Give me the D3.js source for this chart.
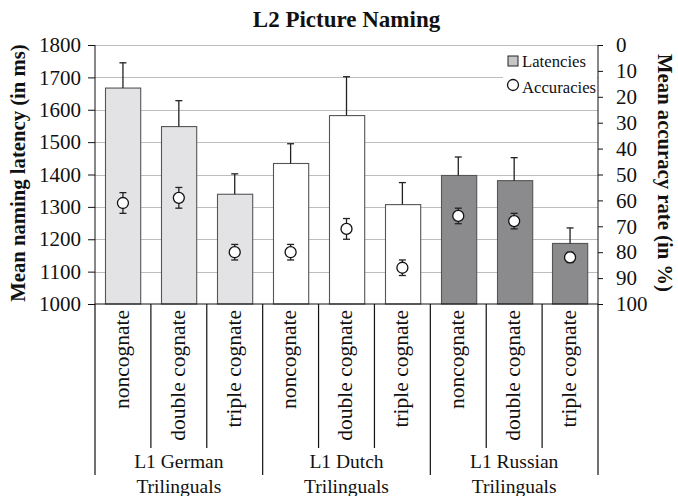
<!DOCTYPE html>
<html>
<head>
<meta charset="utf-8">
<script src="https://cdn.jsdelivr.net/npm/d3@7"></script>
<style>
  body { margin: 0; background: #fff; }
  svg text { font-family: "Liberation Serif", "Times New Roman", serif; fill: #111; }
</style>
</head>
<body>
<div id="chart"></div>
<script>
var groups = ['L1 German', 'L1 Dutch', 'L1 Russian'];
var conditions = ['noncognate', 'double cognate', 'triple cognate'];
var latency = [1667, 1548, 1339, 1434, 1582, 1307, 1397, 1381, 1187];
var latencySe = [78, 80, 63, 61, 120, 68, 57, 71, 48];
var accuracy = [61, 59, 80, 80, 71, 86, 66, 68, 82];
var accuracySe = [4, 4, 3, 3, 4, 3, 3, 3, 2];
var latencyTicks = [1000, 1100, 1200, 1300, 1400, 1500, 1600, 1700, 1800];
var accuracyTicks = [0, 10, 20, 30, 40, 50, 60, 70, 80, 90, 100];
var groupFills = ['#e3e3e5', '#ffffff', '#8b8b8d'];

(function init() {

  draw(transform());
})();

function transform() {

  var rows = [];

  groups.forEach(function (g, gi) {

    conditions.forEach(function (c, ci) {

      var i = gi * conditions.length + ci;
      rows.push({
        key: g + '|' + c,
        group: gi,
        condition: c,
        latency: latency[i],
        latencySe: latencySe[i],
        accuracy: accuracy[i],
        accuracySe: accuracySe[i]
      });
    });
  });

  return rows;
}

function draw(data) {

  var margin = { top: 45, right: 80, bottom: 192, left: 95 };
  var width = 678 - margin.left - margin.right;
  var height = 496 - margin.top - margin.bottom;

  var svg = d3.select('#chart')
    .append('svg')
      .attr('width', 678)
      .attr('height', 496);

  var plot = svg.append('g')
      .attr('transform', 'translate(' + margin.left + ',' + margin.top + ')');

  var x = d3.scaleBand()
      .domain(data.map(function (d) { return d.key; }))
      .range([0, width])
      .paddingInner(0.37)
      .paddingOuter(0.185);

  var y = d3.scaleLinear()
      .domain([1000, 1800])
      .range([height, 0]);

  var yAcc = d3.scaleLinear()
      .domain([0, 100])
      .range([0, height]);

  var step = x.step();
  var center = function (d) { return x(d.key) + x.bandwidth() / 2; };

  // grid
  plot.append('g')
    .selectAll('line')
      .data(latencyTicks.slice(1))
      .enter()
    .append('line')
      .attr('x1', 0)
      .attr('x2', width)
      .attr('y1', function (d) { return Math.round(y(d)) + 0.5; })
      .attr('y2', function (d) { return Math.round(y(d)) + 0.5; })
      .attr('stroke', '#bdbdbd')
      .attr('stroke-width', 1);

  // legend background hides part of the grid
  plot.append('rect')
      .attr('x', 408)
      .attr('y', 2)
      .attr('width', width - 409)
      .attr('height', 52)
      .attr('fill', '#fff');

  // bars
  plot.append('g')
    .selectAll('rect')
      .data(data)
      .enter()
    .append('rect')
      .attr('x', function (d) { return Math.round(x(d.key)) + 0.5; })
      .attr('y', function (d) { return y(d.latency); })
      .attr('width', x.bandwidth())
      .attr('height', function (d) { return height - y(d.latency); })
      .attr('fill', function (d) { return groupFills[d.group]; })
      .attr('stroke', '#555')
      .attr('stroke-width', 1.1);

  // latency error bars (upward only)
  var latErr = plot.append('g')
      .attr('stroke', '#222')
      .attr('stroke-width', 1.3);

  latErr.selectAll('line.v')
      .data(data)
      .enter()
    .append('line')
      .attr('class', 'v')
      .attr('x1', center)
      .attr('x2', center)
      .attr('y1', function (d) { return y(d.latency); })
      .attr('y2', function (d) { return y(d.latency + d.latencySe); });

  latErr.selectAll('line.cap')
      .data(data)
      .enter()
    .append('line')
      .attr('class', 'cap')
      .attr('x1', function (d) { return center(d) - 3.5; })
      .attr('x2', function (d) { return center(d) + 3.5; })
      .attr('y1', function (d) { return y(d.latency + d.latencySe); })
      .attr('y2', function (d) { return y(d.latency + d.latencySe); });

  // accuracy error bars
  var accErr = plot.append('g')
      .attr('stroke', '#222')
      .attr('stroke-width', 1.3);

  accErr.selectAll('line.v')
      .data(data)
      .enter()
    .append('line')
      .attr('class', 'v')
      .attr('x1', center)
      .attr('x2', center)
      .attr('y1', function (d) { return yAcc(d.accuracy - d.accuracySe); })
      .attr('y2', function (d) { return yAcc(d.accuracy + d.accuracySe); });

  [-1, 1].forEach(function (s) {

    accErr.selectAll('line.cap' + s)
        .data(data)
        .enter()
      .append('line')
        .attr('x1', function (d) { return center(d) - 3.5; })
        .attr('x2', function (d) { return center(d) + 3.5; })
        .attr('y1', function (d) { return yAcc(d.accuracy + s * d.accuracySe); })
        .attr('y2', function (d) { return yAcc(d.accuracy + s * d.accuracySe); });
  });

  plot.append('g')
    .selectAll('circle')
      .data(data)
      .enter()
    .append('circle')
      .attr('cx', center)
      .attr('cy', function (d) { return yAcc(d.accuracy); })
      .attr('r', 5.5)
      .attr('fill', '#fff')
      .attr('stroke', '#111')
      .attr('stroke-width', 1.3);

  // axes
  var yAxis = d3.axisLeft(y)
      .tickValues(latencyTicks)
      .tickFormat(d3.format('d'))
      .tickSize(7)
      .tickPadding(7);

  var yAxisRight = d3.axisRight(yAcc)
      .tickValues(accuracyTicks)
      .tickFormat(d3.format('d'))
      .tickSize(5)
      .tickPadding(13);

  var axisL = plot.append('g').call(yAxis);
  var axisR = plot.append('g')
      .attr('transform', 'translate(' + width + ',0)')
      .call(yAxisRight);

  [axisL, axisR].forEach(function (a) {

    a.select('.domain').remove();
    a.selectAll('line').attr('stroke', '#111');
    a.selectAll('text')
        .attr('font-family', '"Liberation Serif", "Times New Roman", serif')
        .attr('font-size', 21)
        .attr('fill', '#111');
  });

  plot.append('line')
      .attr('x1', 0).attr('x2', 0)
      .attr('y1', 0).attr('y2', height)
      .attr('stroke', '#111');

  plot.append('line')
      .attr('x1', width).attr('x2', width)
      .attr('y1', 0).attr('y2', height)
      .attr('stroke', '#111');

  plot.append('line')
      .attr('x1', 0).attr('x2', width)
      .attr('y1', height).attr('y2', height)
      .attr('stroke', '#111')
      .attr('stroke-width', 1.2);

  // category dividers and labels
  var below = plot.append('g')
      .attr('transform', 'translate(0,' + height + ')');

  var boundaries = d3.range(data.length + 1);

  below.selectAll('line')
      .data(boundaries)
      .enter()
    .append('line')
      .attr('x1', function (i) { return i * step; })
      .attr('x2', function (i) { return i * step; })
      .attr('y1', 0)
      .attr('y2', function (i) { return i % conditions.length === 0 ? 171 : 144; })
      .attr('stroke', '#111')
      .attr('stroke-width', 1.2);

  below.selectAll('text.cond')
      .data(data)
      .enter()
    .append('text')
      .attr('class', 'cond')
      .attr('transform', function (d) {
        return 'translate(' + center(d) + ',6) rotate(-90)';
      })
      .attr('dy', '0.27em')
      .attr('text-anchor', 'end')
      .attr('font-size', 21.5)
      .text(function (d) { return d.condition; });

  var groupText = below.selectAll('text.group')
      .data(groups)
      .enter()
    .append('text')
      .attr('class', 'group')
      .attr('text-anchor', 'middle')
      .attr('font-size', 19.5);

  groupText.append('tspan')
      .attr('x', function (g, i) { return (i + 0.5) * step * conditions.length; })
      .attr('y', 164)
      .text(function (g) { return g; });

  groupText.append('tspan')
      .attr('x', function (g, i) { return (i + 0.5) * step * conditions.length; })
      .attr('y', 189)
      .text('Trilinguals');

  // legend
  var legend = plot.append('g')
      .attr('transform', 'translate(413,11)');

  legend.append('rect')
      .attr('x', 0).attr('y', 0)
      .attr('width', 10).attr('height', 10)
      .attr('fill', '#c6c6c6')
      .attr('stroke', '#222');

  legend.append('text')
      .attr('x', 14).attr('y', 10.5)
      .attr('font-size', 16.7)
      .text('Latencies');

  legend.append('circle')
      .attr('cx', 5).attr('cy', 29)
      .attr('r', 5.5)
      .attr('fill', '#fff')
      .attr('stroke', '#111')
      .attr('stroke-width', 1.3);

  legend.append('text')
      .attr('x', 14).attr('y', 36.5)
      .attr('font-size', 16.7)
      .text('Accuracies');

  // titles
  svg.append('text')
      .attr('x', margin.left + width / 2)
      .attr('y', 27)
      .attr('text-anchor', 'middle')
      .attr('font-size', 23)
      .attr('font-weight', 'bold')
      .text('L2 Picture Naming');

  svg.append('text')
      .attr('transform', 'translate(24.5,' + (margin.top + 128) + ') rotate(-90)')
      .attr('text-anchor', 'middle')
      .attr('font-size', 20.7)
      .attr('font-weight', 'bold')
      .text('Mean naming latency (in ms)');

  svg.append('text')
      .attr('transform', 'translate(658,' + (margin.top + 128) + ') rotate(90)')
      .attr('text-anchor', 'middle')
      .attr('font-size', 20.7)
      .attr('font-weight', 'bold')
      .text('Mean accuracy rate (in %)');
}
</script>
</body>
</html>
